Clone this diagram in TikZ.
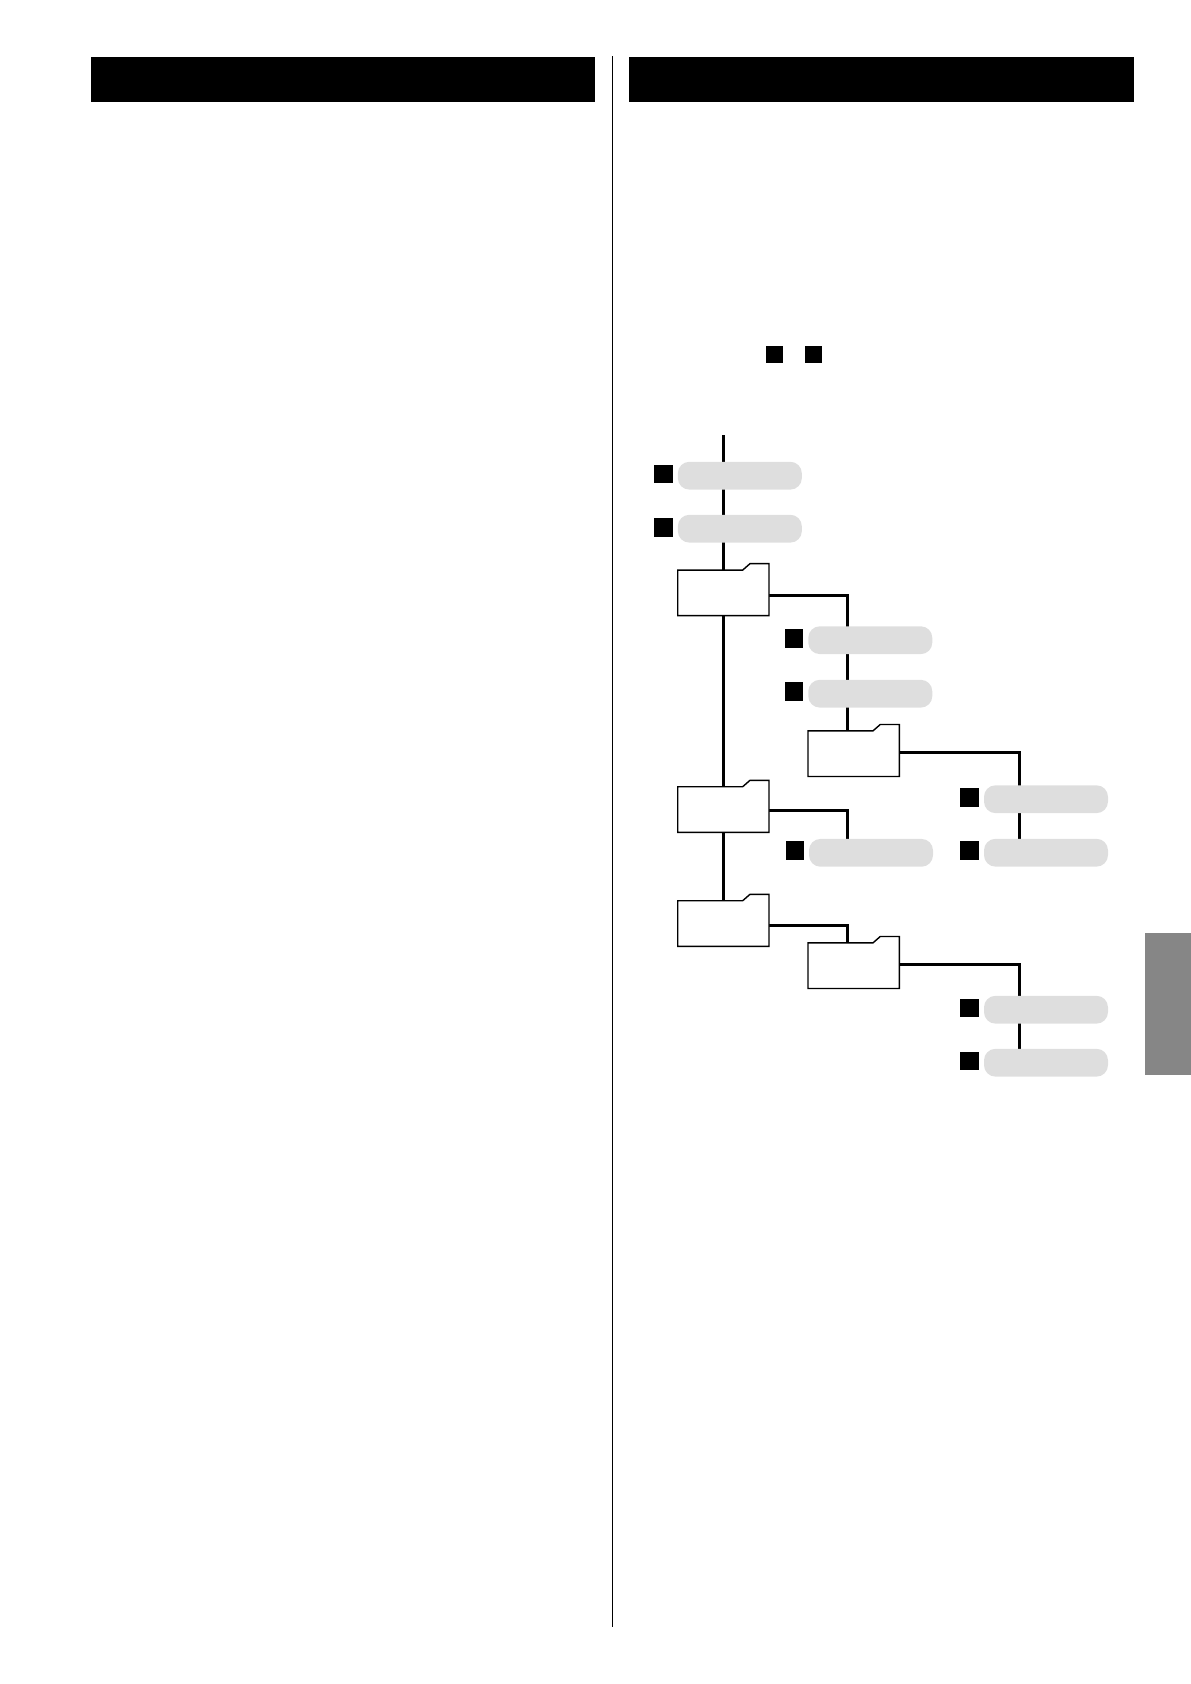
\documentclass[tikz,border=0pt]{standalone}
\usepackage{xcolor}
\usetikzlibrary{backgrounds}
\definecolor{pillgray}{RGB}{222, 222, 222}
\definecolor{tabgray}{RGB}{134, 134, 134}

\begin{document}
\begin{tikzpicture}[
    x=1pt, y=-1pt,
    headbar/.style={fill=black, minimum width=504.5, minimum height=45, inner sep=0pt, outer sep=0pt},
    sidetab/.style={fill=tabgray, minimum width=46, minimum height=141.7, inner sep=0pt, outer sep=0pt},
    bullet/.style={fill=black, minimum size=18.5, inner sep=0pt, outer sep=0pt},
    smallbullet/.style={bullet, minimum size=17},
    pill/.style={fill=pillgray, rounded corners=11.5pt, minimum width=124, minimum height=27.8, inner sep=0pt, outer sep=0pt},
    wire/.style={draw=black, line width=3pt},
    rule/.style={draw=black, line width=1pt},
    folder/.style={minimum width=91.3, minimum height=45.6, inner sep=0pt, outer sep=0pt,
        append after command={
            \pgfextra{\filldraw[draw=black, line width=1.4pt, fill=white, line join=miter]
                (\tikzlastnode.north west) -- ++(65,0) -- ++(7.3,-6.4) -- ++(19,0)
                -- (\tikzlastnode.south east) -- (\tikzlastnode.south west) -- cycle;}
        }},
]
\useasboundingbox (0,0) rectangle (1191,1684);

% --- Column headers and the rule between them ---
\node[headbar] (headLeft) at (343,79.5) {};
\node[headbar] (headRight) at (881.5,79.5) {};
\coordinate (ruleTop) at (612.7,56);
\coordinate (ruleBottom) at (612.7,1627);
\draw[rule] (ruleTop) -- (ruleBottom);

% --- Grey tab on the page edge ---
\node[sidetab] (edgeTab) at (1168,1003.85) {};

% --- Two bullets above the tree ---
\node[smallbullet] (keyOne) at (774.5,354.5) {};
\node[smallbullet] (keyTwo) at (813.5,354.5) {};

% --- Folders ---
\node[folder] (foldA) at (723.35,592.85) {};
\node[folder] (foldB) at (853.65,753.65) {};
\node[folder] (foldC) at (723.35,809.5) {};
\node[folder] (foldD) at (723.35,923.5) {};
\node[folder] (foldE) at (853.65,965.65) {};

% --- Tracks: pill plus its bullet ---
\foreach \name/\px/\py/\qx/\qy in {
    a/739.85/475.7/663.5/474,
    b/739.85/528.7/663.5/527.5,
    c/870.3/640.2/794.2/638.5,
    d/870.3/693.7/794.2/691.5,
    e/1046/799.2/969.5/797.5,
    f/1046/852.7/969.5/850.5,
    g/871/852.8/795/850.5,
    h/1046/1009.7/969.5/1008,
    i/1046/1062.7/969.5/1061}{
    \node[pill] (pill\name) at (\px,\py) {};
    \node[bullet] (mark\name) at (\qx,\qy) {};
}

% --- Wires run behind the pills and folders ---
\coordinate (treeTop) at (723.35,435);
\begin{scope}[on background layer]
    \draw[wire] (treeTop) -- (foldA.north);
    \draw[wire] (foldA.south) -- (foldC.north);
    \draw[wire] (foldC.south) -- (foldD.north);
    \draw[wire] ([yshift=-2.15pt]foldA.east) -| ([xshift=-6.35pt]foldB.north);
    \draw[wire] ([yshift=1.35pt]foldB.east) -| ([xshift=-26.7pt]pillf.north);
    \draw[wire] ([yshift=-1.2pt]foldC.east) -| ([xshift=-23.7pt]pillg.north);
    \draw[wire] ([yshift=-1.8pt]foldD.east) -| ([xshift=-6.35pt]foldE.north);
    \draw[wire] ([yshift=1.35pt]foldE.east) -| ([xshift=-26.7pt]pilli.north);
\end{scope}

\end{tikzpicture}
\end{document}
